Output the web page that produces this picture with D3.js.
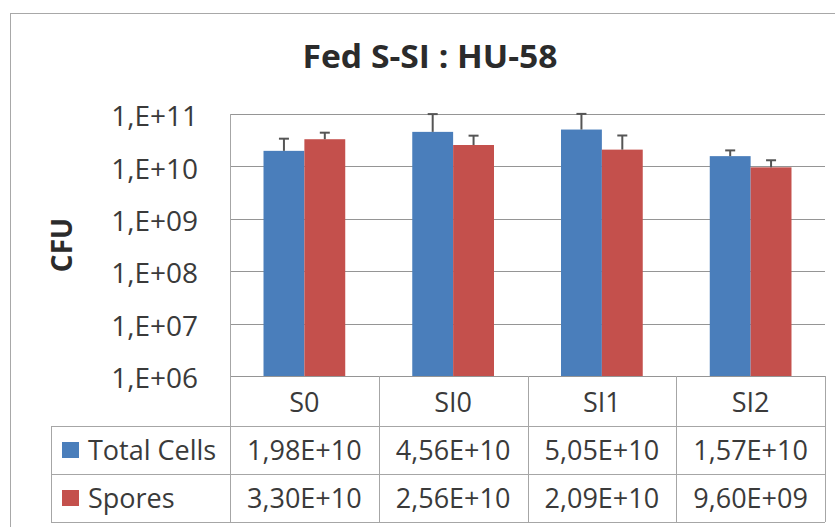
<!DOCTYPE html>
<html>
<head>
<meta charset="utf-8">
<script src="https://cdn.jsdelivr.net/npm/d3@7"></script>
<style>
  html, body { margin: 0; padding: 0; background: #fff; }
  svg { display: block; font-family: "Open Sans", "DejaVu Sans", sans-serif; }
</style>
</head>
<body>
<div id="chart"></div>
<script>
// --- data ---
const categories = ["S0", "SI0", "SI1", "SI2"];
const seriesNames = ["Total Cells", "Spores"];
const totalCells = [1.98e10, 4.56e10, 5.05e10, 1.57e10];
const spores = [3.30e10, 2.56e10, 2.09e10, 9.60e9];
// upper error
const totalCellsErr = [1.4e10, 5.4e10, 5.0e10, 0.45e10];
const sporesErr = [1.1e10, 1.3e10, 1.8e10, 0.35e10];
const tableTotalCells = ["1,98E+10", "4,56E+10", "5,05E+10", "1,57E+10"];
const tableSpores = ["3,30E+10", "2,56E+10", "2,09E+10", "9,60E+09"];
const yTicks = [1e6, 1e7, 1e8, 1e9, 1e10, 1e11];

const colors = {"Total Cells": "#4a7ebb", "Spores": "#c4504c"};
const textColor = "#3a3a3a";

const width = 835, height = 527;
const plot = {left: 230, right: 825, top: 114, bottom: 376};
const rowH = 48;
const tableLeft = 51;

const svg = d3.select("#chart").append("svg")
  .attr("width", width)
  .attr("height", height);

// outer chart border
svg.append("rect")
  .attr("x", 10.5).attr("y", 13.5)
  .attr("width", 840).attr("height", 540)
  .attr("fill", "none")
  .attr("stroke", "#a8a8a8");

// title
svg.append("text")
  .attr("x", 430).attr("y", 68)
  .attr("text-anchor", "middle")
  .attr("font-size", 33)
  .attr("font-weight", "bold")
  .attr("fill", "#2b2b2b")
  .attr("textLength", 255)
  .attr("lengthAdjust", "spacingAndGlyphs")
  .text("Fed S-SI : HU-58");

// scales
const y = d3.scaleLog().domain([1e6, 1e11]).range([plot.bottom, plot.top]);
const x = d3.scaleBand().domain(categories).range([plot.left, plot.right]);
const xs = d3.scaleBand().domain(seriesNames).range([0, x.bandwidth()])
  .paddingInner(0).paddingOuter(0.82);

// gridlines
svg.append("g")
  .selectAll("line")
  .data(yTicks)
  .join("line")
  .attr("x1", plot.left).attr("x2", plot.right)
  .attr("y1", d => Math.round(y(d)) + 0.5)
  .attr("y2", d => Math.round(y(d)) + 0.5)
  .attr("stroke", "#959595")
  .attr("stroke-width", 1);

// y axis
const fmt = d => "1,E+" + String(Math.round(Math.log10(d))).padStart(2, "0");
svg.append("g")
  .attr("transform", `translate(${plot.left},0)`)
  .call(d3.axisLeft(y).tickValues(yTicks).tickFormat(fmt).tickSize(0).tickPadding(32))
  .call(g => g.select(".domain").attr("stroke", "#959595"))
  .call(g => g.selectAll("text")
    .attr("font-size", 28)
    .attr("dy", "0.42em")
    .attr("fill", textColor)
    .attr("font-family", "'Open Sans', sans-serif"));

// y label
svg.append("text")
  .attr("transform", "translate(72,245) rotate(-90)")
  .attr("text-anchor", "middle")
  .attr("font-size", 28)
  .attr("font-weight", "bold")
  .attr("fill", "#2b2b2b")
  .text("CFU");

// bars
const barData = [];
categories.forEach((c, i) => {
  barData.push({cat: c, s: "Total Cells", v: totalCells[i], e: totalCellsErr[i]});
  barData.push({cat: c, s: "Spores", v: spores[i], e: sporesErr[i]});
});

svg.append("g")
  .selectAll("rect")
  .data(barData)
  .join("rect")
  .attr("x", d => x(d.cat) + xs(d.s))
  .attr("y", d => y(d.v))
  .attr("width", xs.bandwidth())
  .attr("height", d => y(1e6) - y(d.v))
  .attr("fill", d => colors[d.s]);

// error bars (plus direction)
const eb = svg.append("g").attr("stroke", "#555").attr("stroke-width", 2);
eb.selectAll(".stem")
  .data(barData)
  .join("line")
  .attr("x1", d => x(d.cat) + xs(d.s) + xs.bandwidth() / 2)
  .attr("x2", d => x(d.cat) + xs(d.s) + xs.bandwidth() / 2)
  .attr("y1", d => y(d.v))
  .attr("y2", d => y(d.v + d.e));
eb.selectAll(".cap")
  .data(barData)
  .join("line")
  .attr("x1", d => x(d.cat) + xs(d.s) + xs.bandwidth() / 2 - 5)
  .attr("x2", d => x(d.cat) + xs(d.s) + xs.bandwidth() / 2 + 5)
  .attr("y1", d => y(d.v + d.e))
  .attr("y2", d => y(d.v + d.e));

// data table
const tbl = svg.append("g").attr("stroke", "#a6a6a6").attr("stroke-width", 1);
const rowsY = [plot.bottom + 50, plot.bottom + 50 + rowH, plot.bottom + 50 + 2 * rowH];
rowsY.forEach(ry => {
  tbl.append("line")
    .attr("x1", tableLeft).attr("x2", plot.right)
    .attr("y1", ry + 0.5).attr("y2", ry + 0.5);
});
tbl.append("line")
  .attr("x1", tableLeft + 0.5).attr("x2", tableLeft + 0.5)
  .attr("y1", rowsY[0]).attr("y2", rowsY[2]);
// column separators
const colEdges = categories.map(c => x(c)).concat([plot.right]);
tbl.selectAll(".col")
  .data(colEdges)
  .join("line")
  .attr("x1", d => Math.round(d) + 0.5)
  .attr("x2", d => Math.round(d) + 0.5)
  .attr("y1", (d, i) => i === 0 ? plot.top : plot.bottom)
  .attr("y2", rowsY[2]);

// category labels
svg.append("g")
  .selectAll("text")
  .data(categories)
  .join("text")
  .attr("x", d => x(d) + x.bandwidth() / 2)
  .attr("y", plot.bottom + 36)
  .attr("text-anchor", "middle")
  .attr("font-size", 27)
  .attr("fill", textColor)
  .text(d => d);

// table rows
const rows = [
  {name: "Total Cells", vals: tableTotalCells},
  {name: "Spores", vals: tableSpores}
];
rows.forEach((r, ri) => {
  const cy = rowsY[ri] + rowH / 2;
  svg.append("rect")
    .attr("x", 62).attr("y", cy - 8)
    .attr("width", 17).attr("height", 16)
    .attr("fill", colors[r.name]);
  svg.append("text")
    .attr("x", 88).attr("y", cy + 10)
    .attr("font-size", 27)
    .attr("fill", textColor)
    .text(r.name);
  svg.append("g")
    .selectAll("text")
    .data(r.vals)
    .join("text")
    .attr("x", (d, i) => x(categories[i]) + x.bandwidth() / 2)
    .attr("y", cy + 10)
    .attr("text-anchor", "middle")
    .attr("font-size", 27)
    .attr("fill", textColor)
    .text(d => d);
});
</script>
</body>
</html>
